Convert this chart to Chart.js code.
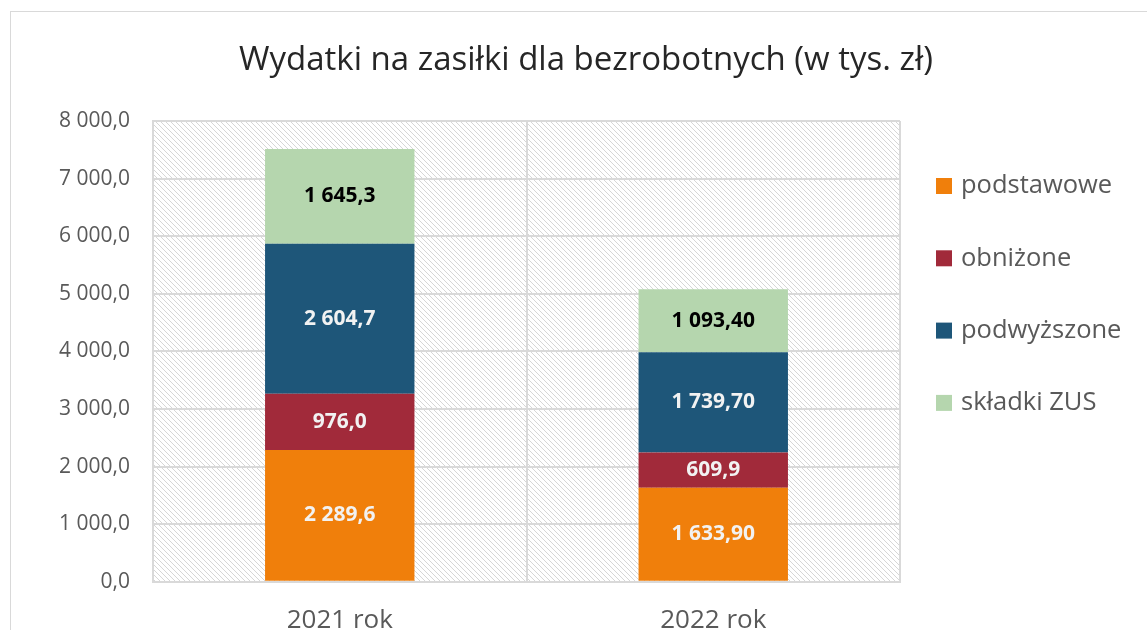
<!DOCTYPE html>
<html>
<head>
<meta charset="utf-8">
<script src="https://cdn.jsdelivr.net/npm/chart.js@4"></script>
<style>
  html, body { margin: 0; padding: 0; background: #fff; overflow: hidden; }
  body { width: 1147px; height: 630px; position: relative; }
  #frame { position: absolute; left: 10px; top: 11px; width: 1160px; height: 700px; border: 1px solid #d9d9d9; box-sizing: border-box; }
  #wrap { position: absolute; left: 10px; top: 11px; width: 1152px; height: 662px; }
</style>
</head>
<body>
<div id="frame"></div>
<div id="wrap"><canvas id="chart"></canvas></div>
<script>
// Dane wykresu
const categories = ['2021 rok', '2022 rok'];
const seriesNames = ['podstawowe', 'obniżone', 'podwyższone', 'składki ZUS'];
const podstawowe = [2289.6, 1633.9];
const obnizone = [976.0, 609.9];
const podwyzszone = [2604.7, 1739.7];
const skladkiZus = [1645.3, 1093.4];
// liczba miejsc po przecinku w etykietach (jak w oryginale)
const decPodstawowe = [1, 2];
const decObnizone = [1, 1];
const decPodwyzszone = [1, 2];
const decSkladki = [1, 2];
const yTicks = [0, 1000, 2000, 3000, 4000, 5000, 6000, 7000, 8000];

const colors = ['#f07f0b', '#a12a3a', '#1e5679', '#b5d6ae'];
const labelColors = ['#f2f2f2', '#f2f2f2', '#f2f2f2', '#000000'];
const FONT = "'Open Sans', sans-serif";

function fmt(v, d) {
    const parts = v.toFixed(d).split('.');
    const intPart = parts[0].replace(/\B(?=(\d{3})+(?!\d))/g, ' ');
    return parts.length > 1 ? intPart + ',' + parts[1] : intPart;
}

// kreskowane tło obszaru wykresu
function makeHatch() {
    const p = 5;
    const c = document.createElement('canvas');
    c.width = p; c.height = p;
    const g = c.getContext('2d');
    g.fillStyle = '#ffffff';
    g.fillRect(0, 0, p, p);
    g.strokeStyle = '#d6d6d6';
    g.lineWidth = 1;
    g.beginPath();
    g.moveTo(-1, -1); g.lineTo(p + 1, p + 1);
    g.moveTo(-1, p - 1); g.lineTo(1, p + 1);
    g.moveTo(p - 1, -1); g.lineTo(p + 1, 1);
    g.stroke();
    return g.createPattern(c, 'repeat');
}

const hatchBg = {
    id: 'hatchBg',
    beforeDraw(chart) {
        const { ctx, chartArea: a } = chart;
        ctx.save();
        ctx.fillStyle = makeHatch();
        ctx.fillRect(a.left, a.top, a.right - a.left, a.bottom - a.top);
        ctx.restore();
    }
};

const valueLabels = {
    id: 'valueLabels',
    afterDatasetsDraw(chart) {
        const ctx = chart.ctx;
        ctx.save();
        ctx.font = 'bold 21px ' + FONT;
        ctx.textAlign = 'center';
        ctx.textBaseline = 'middle';
        chart.data.datasets.forEach((ds, i) => {
            chart.getDatasetMeta(i).data.forEach((bar, j) => {
                ctx.fillStyle = labelColors[i];
                ctx.fillText(fmt(ds.data[j], ds.decimals[j]), bar.x, (bar.y + bar.base) / 2);
            });
        });
        ctx.restore();
    }
};

// legenda po prawej stronie
const sideLegend = {
    id: 'sideLegend',
    afterDraw(chart) {
        const ctx = chart.ctx;
        ctx.save();
        ctx.font = '25.5px ' + FONT;
        ctx.textBaseline = 'middle';
        chart.data.datasets.forEach((ds, i) => {
            const cy = 175 + i * 72.3;
            ctx.fillStyle = ds.backgroundColor;
            ctx.fillRect(926, cy - 8, 16, 16);
            ctx.fillStyle = '#595959';
            ctx.fillText(ds.label, 951, cy);
        });
        ctx.restore();
    }
};

const dsData = [podstawowe, obnizone, podwyzszone, skladkiZus];
const dsDec = [decPodstawowe, decObnizone, decPodwyzszone, decSkladki];

new Chart(document.getElementById('chart'), {
    type: 'bar',
    data: {
        labels: categories,
        datasets: seriesNames.map((name, i) => ({
            label: name,
            data: dsData[i],
            decimals: dsDec[i],
            backgroundColor: colors[i],
            borderWidth: 0,
            barPercentage: 0.4,
            categoryPercentage: 1.0
        }))
    },
    options: {
        responsive: true,
        maintainAspectRatio: false,
        animation: false,
        layout: { padding: { left: 0, right: 0, top: 0, bottom: 14 } },
        plugins: {
            legend: { display: false },
            tooltip: { enabled: false },
            title: {
                display: true,
                text: 'Wydatki na zasiłki dla bezrobotnych (w tys. zł)',
                color: '#262626',
                font: { family: FONT, size: 33, weight: 'normal' },
                padding: { top: 30, bottom: 40.4 }
            }
        },
        scales: {
            x: {
                stacked: true,
                grid: { display: true, offset: true, color: '#d9d9d9', lineWidth: 2, drawTicks: false },
                border: { display: true, color: '#d9d9d9', width: 2 },
                ticks: { color: '#595959', font: { family: FONT, size: 26 }, padding: 23 }
            },
            y: {
                stacked: true,
                min: 0,
                max: 8000,
                afterBuildTicks(scale) { scale.ticks = yTicks.map(v => ({ value: v })); },
                afterFit(scale) { scale.width = 143; },
                grid: { color: '#d9d9d9', lineWidth: 2, drawTicks: false },
                border: { display: true, color: '#d9d9d9', width: 2 },
                ticks: {
                    color: '#595959',
                    font: { family: FONT, size: 21 },
                    padding: 23,
                    callback: v => fmt(v, 1)
                }
            },
            // pusta oś po prawej – rezerwuje miejsce na legendę
            legendSpace: {
                type: 'linear',
                position: 'right',
                grid: { display: false },
                border: { display: false },
                ticks: { display: false },
                afterFit(scale) { scale.width = 262; }
            }
        }
    },
    plugins: [hatchBg, valueLabels, sideLegend]
});
</script>
</body>
</html>
